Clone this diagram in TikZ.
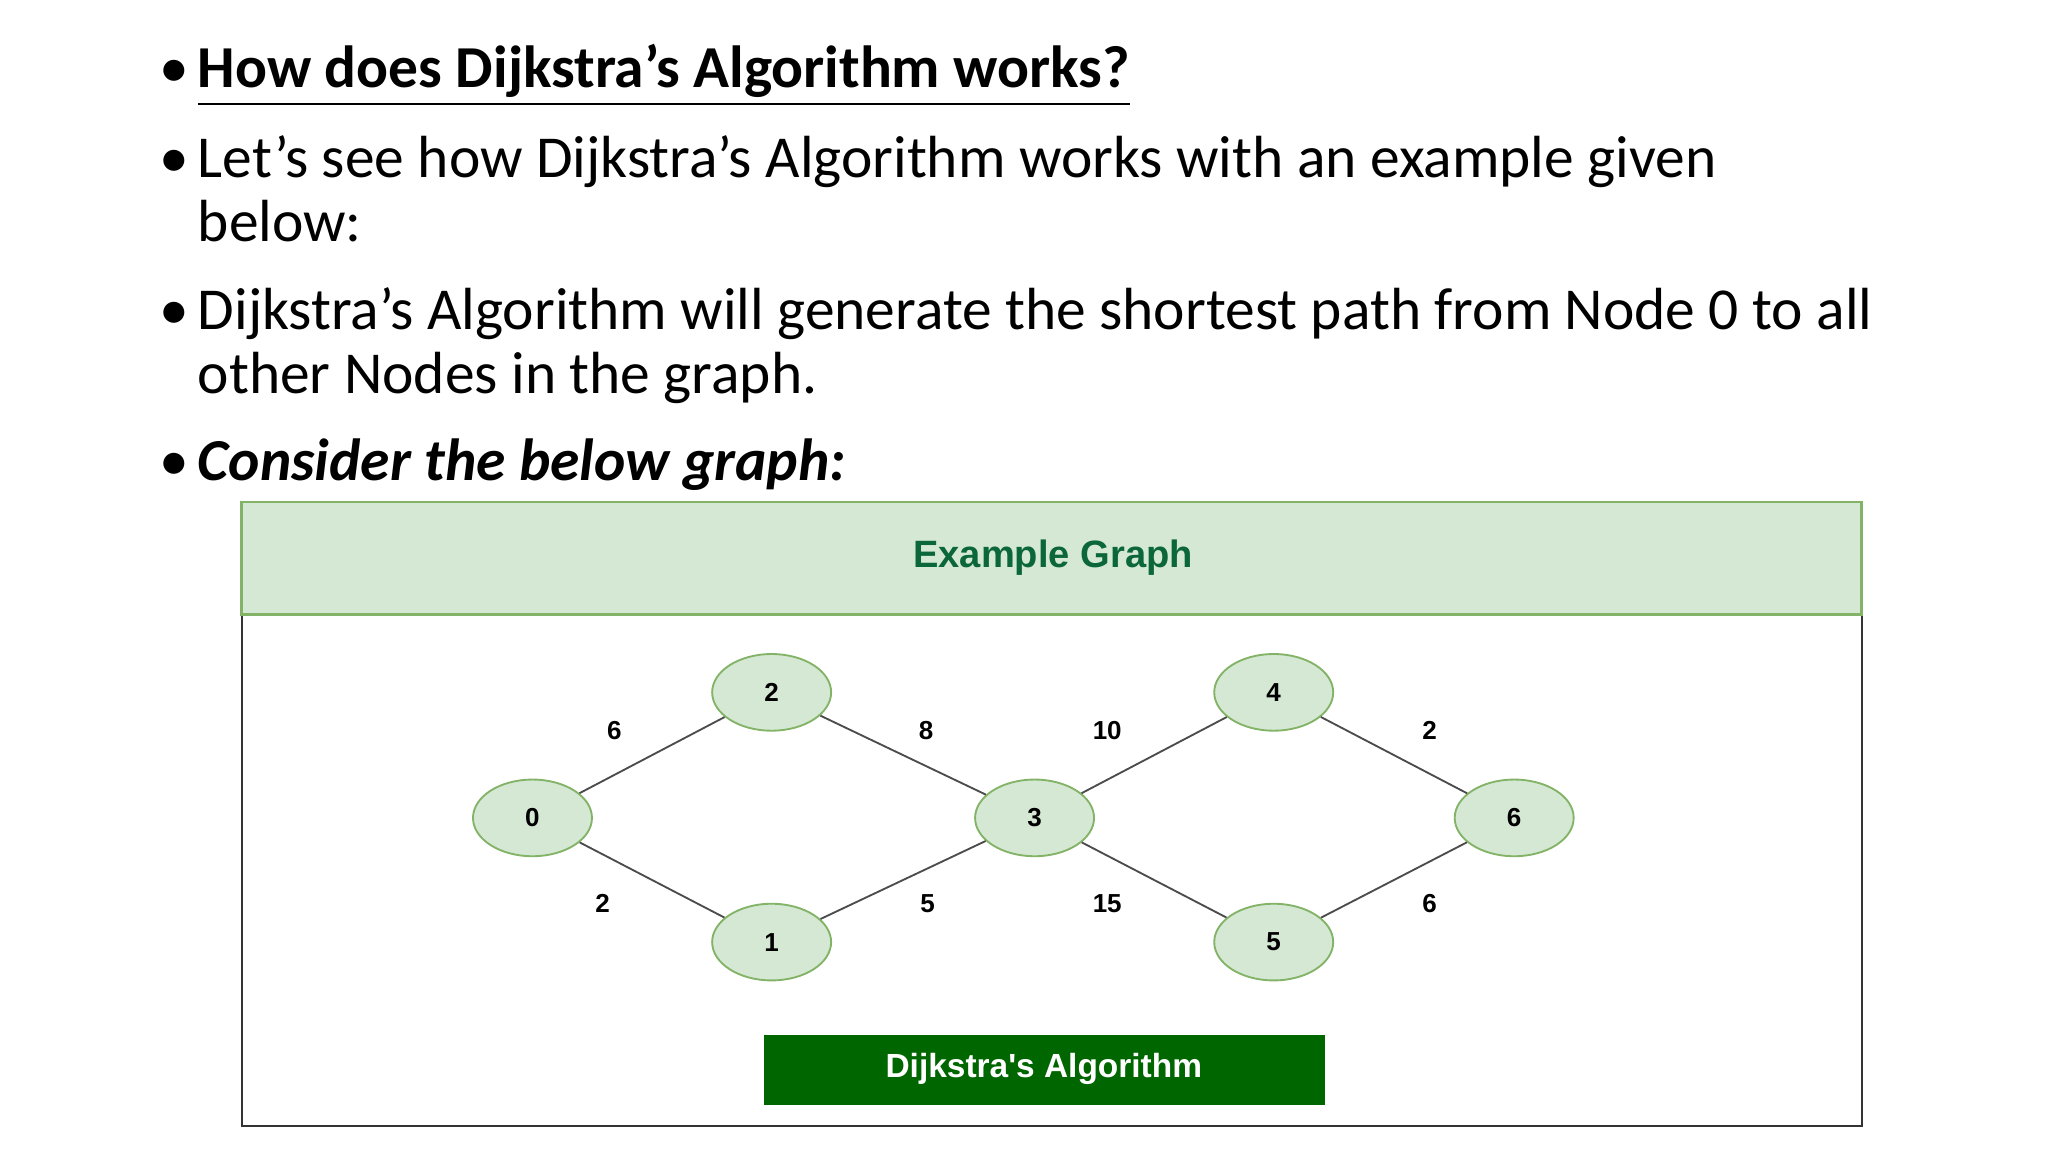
\documentclass[tikz,border=0pt]{standalone}
\usepackage{fontspec}
\setmainfont{Carlito}
\newfontfamily\arialfont{Liberation Sans}
\usetikzlibrary{shapes.geometric}

\definecolor{nodefill}{RGB}{213,232,212}
\definecolor{nodeline}{RGB}{130,179,102}
\definecolor{titlegreen}{RGB}{11,102,58}
\definecolor{buttongreen}{RGB}{0,102,0}

\tikzset{
  vertex/.style={ellipse, draw=nodeline, fill=nodefill,
    minimum width=0.9cm, minimum height=0.58cm, inner sep=0pt, font=\arialfont\bfseries\fontsize{5.6}{6}\selectfont},
  weight/.style={font=\arialfont\bfseries\fontsize{5.6}{6}\selectfont},
  line/.style={anchor=base west, font=\fontsize{12.8}{14}\selectfont, inner sep=0pt},
  bullet/.style={anchor=base west, font=\fontsize{12.8}{14}\selectfont, inner sep=0pt}
}

\begin{document}
\begin{tikzpicture}[x=0.01cm, y=-0.01cm]
  \useasboundingbox (0,0) rectangle (1550,872);

  % bullets
  \foreach \y in {66,134,249,364} \node[bullet] at (120,\y) {•};
  \node[line] (head) at (149,66) {\textbf{\underline{How does Dijkstra’s Algorithm works?}}};
  \node[line] (see1) at (149,134) {Let’s see how Dijkstra’s Algorithm works with an example given};
  \node[line] (see2) at (149,183) {below:};
  \node[line] (gen1) at (149,249) {Dijkstra’s Algorithm will generate the shortest path from Node 0 to all};
  \node[line] (gen2) at (149,298) {other Nodes in the graph.};
  \node[line] (cons) at (149,364) {\textbf{\textit{Consider the below graph:}}};

  % frame and header
  \draw[black!80, line width=0.5pt] (183,380) rectangle (1409,852);
  \draw[fill=nodefill, draw=nodeline, line width=0.6pt] (183,380) rectangle (1409,465);
  \node[font=\arialfont\bfseries\fontsize{8.2}{9}\selectfont, text=titlegreen] (title) at (797,422) {Example Graph};

  % vertices
  \node[vertex] (n0) at (403,619) {0};
  \node[vertex] (n2) at (584,524) {2};
  \node[vertex] (n1) at (584,713) {1};
  \node[vertex] (n3) at (783,619) {3};
  \node[vertex] (n4) at (964,524) {4};
  \node[vertex] (n5) at (964,713) {5};
  \node[vertex] (n6) at (1146,619) {6};

  % edges
  \draw[black!70, line width=0.4pt] (n0) -- (n2) (n0) -- (n1) (n2) -- (n3) (n1) -- (n3)
    (n3) -- (n4) (n3) -- (n5) (n4) -- (n6) (n5) -- (n6);

  % weights
  \node[weight] (w02) at (465,553) {6};
  \node[weight] (w23) at (701,553) {8};
  \node[weight] (w34) at (838,553) {10};
  \node[weight] (w46) at (1082,553) {2};
  \node[weight] (w01) at (456,684) {2};
  \node[weight] (w13) at (702,684) {5};
  \node[weight] (w35) at (838,684) {15};
  \node[weight] (w56) at (1082,684) {6};

  % button
  \fill[buttongreen] (578,783) rectangle (1003,836);
  \node[font=\arialfont\bfseries\fontsize{7.2}{8}\selectfont, text=white] (algo) at (790,809) {Dijkstra's Algorithm};
\end{tikzpicture}
\end{document}
